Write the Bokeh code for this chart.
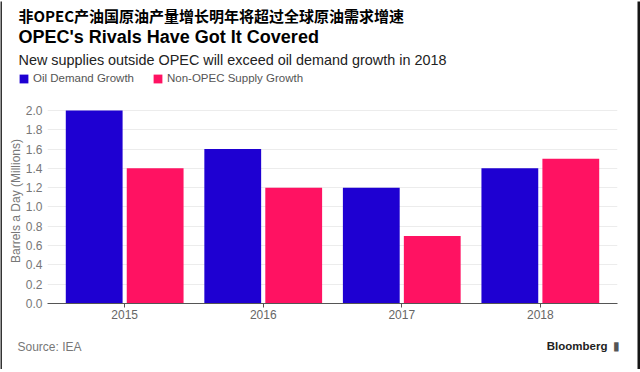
from bokeh.plotting import figure
from bokeh.layouts import column, row
from bokeh.models import (Label, Legend, LegendItem, FixedTicker, NumeralTickFormatter,
                          ColumnDataSource, Range1d)
from bokeh.embed import file_html
from bokeh.resources import INLINE
import numpy as np

years = ["2015", "2016", "2017", "2018"]
demand_growth = [2.0, 1.6, 1.2, 1.4]
supply_growth = [1.4, 1.2, 0.7, 1.5]
y_ticks = [0.0, 0.2, 0.4, 0.6, 0.8, 1.0, 1.2, 1.4, 1.6, 1.8, 2.0]

title_cn = "非OPEC产油国原油产量增长明年将超过全球原油需求增速"
title_en = "OPEC's Rivals Have Got It Covered"
subtitle = "New supplies outside OPEC will exceed oil demand growth in 2018"
legend_labels = ["Oil Demand Growth", "Non-OPEC Supply Growth"]
source_text = "Source: IEA"
brand = "Bloomberg"
y_label = "Barrels a Day (Millions)"

BLUE = "#1e00d2"
PINK = "#ff1262"
FONT = "Liberation Sans"

# page frame (dark border around the whole graphic)
BL, BR, BT, BB = 2, 3, 1, 3
W = 640 - BL - BR
H_HEAD, H_MAIN, H_FOOT = 97, 230, 41
Y_HEAD, Y_MAIN, Y_FOOT = BT, BT + H_HEAD, BT + H_HEAD + H_MAIN


def no_align(f):
    if "frame_align" in f.properties():
        f.frame_align = False


def bare(width, height, x_range, y_range, fill="white"):
    f = figure(width=width, height=height, output_backend="svg", toolbar_location=None,
               x_range=x_range, y_range=y_range, x_axis_type=None, y_axis_type=None,
               min_border_left=0, min_border_right=0, min_border_top=0, min_border_bottom=0)
    f.outline_line_color = None
    f.xgrid.grid_line_color = None
    f.ygrid.grid_line_color = None
    f.background_fill_color = fill
    f.border_fill_color = fill
    no_align(f)
    return f


def strip(width, height, color):
    return bare(width, height, Range1d(0, 1), Range1d(0, 1), fill=color)


def panel(y0, height):
    # data coordinates equal page pixel coordinates (y grows downwards)
    return bare(W, height, Range1d(BL, BL + W), Range1d(y0 + height, y0))


def label(f, text, x, y, size, style="normal", color="#000000", font=FONT,
          baseline="middle", align="left"):
    f.add_layout(Label(x=x, y=y, text=text, text_font=font, text_font_size=size,
                       text_font_style=style, text_color=color,
                       text_baseline=baseline, text_align=align))


# ---------- header ----------
head = panel(Y_HEAD, H_HEAD)
label(head, title_cn, 18, 15, "15px", "bold", "#000000", font="Noto Sans CJK SC")
label(head, title_en, 18, 36.5, "18px", "bold", "#000000", baseline="alphabetic")
label(head, subtitle, 18, 59, "14.4px", "normal", "#222222", baseline="alphabetic")

# legend proxies (NaN data: nothing drawn, only the legend swatches)
proxy = ColumnDataSource(dict(x=[np.nan], top=[np.nan]))
d1 = head.vbar(x="x", top="top", width=1, source=proxy, fill_color=BLUE, line_color=None)
d2 = head.vbar(x="x", top="top", width=1, source=proxy, fill_color=PINK, line_color=None)
legend = Legend(items=[LegendItem(label=legend_labels[0], renderers=[d1]),
                       LegendItem(label=legend_labels[1], renderers=[d2])],
                orientation="horizontal", location=(18 - BL, Y_HEAD + H_HEAD - 84),
                glyph_width=11, glyph_height=11, label_standoff=4, spacing=18,
                padding=0, margin=0, label_height=11,
                label_text_font=FONT, label_text_font_size="11.5px",
                label_text_color="#555555", label_text_baseline="middle",
                border_line_color=None, background_fill_alpha=0)
head.add_layout(legend)

# ---------- main chart ----------
idx = np.arange(len(years))
src = ColumnDataSource(dict(x_d=idx - 0.22, x_s=idx + 0.22,
                            demand=demand_growth, supply=supply_growth))

p = figure(width=W, height=H_MAIN, output_backend="svg", toolbar_location=None,
           x_range=Range1d(-0.557, len(years) - 1 + 0.557),
           y_range=Range1d(0, 2.123),
           min_border_left=47 - BL, min_border_right=BL + W - 617,
           min_border_top=0, min_border_bottom=25)
p.outline_line_color = None
p.background_fill_color = "white"
p.border_fill_color = "white"
no_align(p)

p.vbar(x="x_d", top="demand", width=0.41, source=src, fill_color=BLUE, line_color=None)
p.vbar(x="x_s", top="supply", width=0.41, source=src, fill_color=PINK, line_color=None)

p.xaxis.ticker = FixedTicker(ticks=list(idx))
p.xaxis.major_label_overrides = {int(i): y for i, y in zip(idx, years)}
p.xaxis.axis_line_color = "#555555"
p.xaxis.major_tick_line_color = "#555555"
p.xaxis.major_tick_out = 4
p.xaxis.major_tick_in = 0
p.xaxis.minor_tick_line_color = None
p.xaxis.major_label_standoff = 2
p.xaxis.major_label_text_font = FONT
p.xaxis.major_label_text_font_size = "12px"
p.xaxis.major_label_text_color = "#666666"
p.xgrid.grid_line_color = None

p.yaxis.ticker = FixedTicker(ticks=y_ticks)
p.yaxis.formatter = NumeralTickFormatter(format="0.0")
p.yaxis.axis_line_color = None
p.yaxis.major_tick_line_color = None
p.yaxis.major_tick_out = 0
p.yaxis.major_tick_in = 0
p.yaxis.minor_tick_line_color = None
p.yaxis.major_label_standoff = 5
p.yaxis.major_label_text_font = FONT
p.yaxis.major_label_text_font_size = "12px"
p.yaxis.major_label_text_color = "#777777"
p.yaxis.axis_label = y_label
p.yaxis.axis_label_text_font = FONT
p.yaxis.axis_label_text_font_style = "normal"
p.yaxis.axis_label_text_font_size = "12px"
p.yaxis.axis_label_text_color = "#777777"
p.yaxis.axis_label_standoff = 0
p.ygrid.grid_line_color = "#ececec"
p.ygrid.ticker = FixedTicker(ticks=y_ticks[1:])

# ---------- footer ----------
foot = panel(Y_FOOT, H_FOOT)
label(foot, source_text, 17, 346, "12px", "normal", "#777777")
label(foot, brand, 607, 345, "11.5px", "bold", "#222222", align="right")
label(foot, "\u25AE", 612, 345, "12px", "normal", "#555555")

# ---------- assemble with border strips ----------
inner = column(head, p, foot, spacing=0)
middle = row(strip(BL, H_HEAD + H_MAIN + H_FOOT, "#333333"), inner,
             strip(BR, H_HEAD + H_MAIN + H_FOOT, "#151515"), spacing=0)
layout = column(strip(640, BT, "#555555"), middle, strip(640, BB, "#1e1e1e"), spacing=0)
open("out.html", "w").write(file_html(layout, INLINE))
